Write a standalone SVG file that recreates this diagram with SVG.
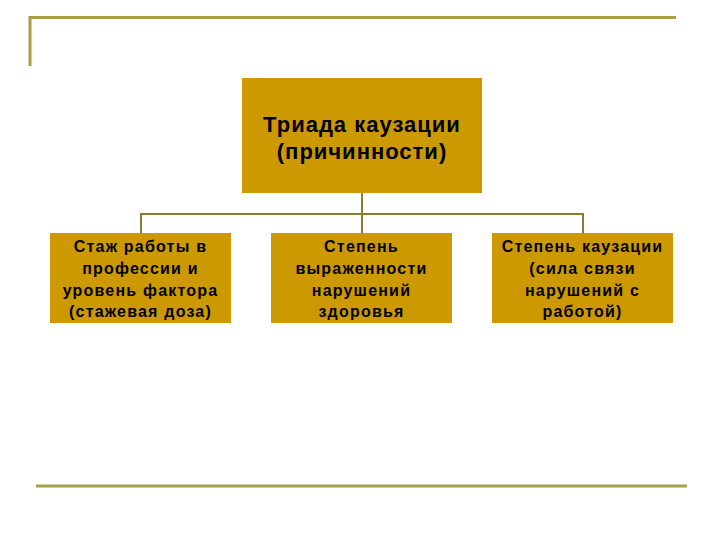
<svg xmlns="http://www.w3.org/2000/svg" width="720" height="540" viewBox="0 0 720 540">
<style>
.frame{stroke:#A89F4A;stroke-width:3;fill:none}
.conn{stroke:#8C7A2E;stroke-width:2;fill:none}
.box{fill:#CC9900}
.t1{font-family:"Liberation Sans",Arial,sans-serif;font-size:22px;font-weight:bold;letter-spacing:1px;fill:#000;text-anchor:middle}
.t2{font-family:"Liberation Sans",Arial,sans-serif;font-size:16px;font-weight:bold;letter-spacing:1.2px;fill:#000;text-anchor:middle}
</style>
<rect width="720" height="540" fill="#fff"/>
<g id="frame">
<path class="frame" d="M30,66 V17.5 H676"/>
<path class="frame" d="M36,486 H687"/>
</g>
<g id="connectors">
<path class="conn" d="M362,193 V233 M141,233 V214 H583 V233"/>
</g>
<g id="root">
<rect class="box" x="242" y="78" width="240" height="115"/>
<text class="t1" x="362" y="132">Триада каузации</text>
<text class="t1" x="362" y="158.5">(причинности)</text>
</g>
<g id="n1">
<rect class="box" x="50" y="233" width="181" height="90"/>
<text class="t2" x="140.5" y="252">Стаж работы в</text>
<text class="t2" x="140.5" y="274">профессии и</text>
<text class="t2" x="140.5" y="296">уровень фактора</text>
<text class="t2" x="140.5" y="317">(стажевая доза)</text>
</g>
<g id="n2">
<rect class="box" x="271" y="233" width="181" height="90"/>
<text class="t2" x="361.5" y="252">Степень</text>
<text class="t2" x="361.5" y="274">выраженности</text>
<text class="t2" x="361.5" y="296">нарушений</text>
<text class="t2" x="361.5" y="317">здоровья</text>
</g>
<g id="n3">
<rect class="box" x="492" y="233" width="181" height="90"/>
<text class="t2" x="582.5" y="252">Степень каузации</text>
<text class="t2" x="582.5" y="274">(сила связи</text>
<text class="t2" x="582.5" y="296">нарушений с</text>
<text class="t2" x="582.5" y="317">работой)</text>
</g>
</svg>
